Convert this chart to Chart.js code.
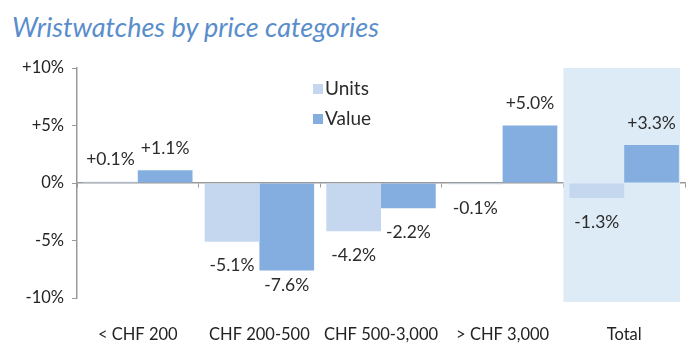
<!DOCTYPE html>
<html>
<head>
<meta charset="utf-8">
<script src="https://cdn.jsdelivr.net/npm/chart.js@4/dist/chart.umd.min.js"></script>
<style>
  html, body { margin: 0; padding: 0; background: #ffffff; }
  #wrap { position: relative; width: 700px; height: 363px; }
  #title { position: absolute; left: 12px; top: 10px; margin: 0; font: italic 27px Lato, "Open Sans", sans-serif; font-weight: normal; color: #5A8DCB; white-space: nowrap; }
  canvas { position: absolute; left: 0; top: 0; }
</style>
</head>
<body>
<div id="wrap">
  <h1 id="title">Wristwatches by price categories</h1>
  <canvas id="c" width="700" height="363"></canvas>
</div>
<script>
const categories = ["< CHF 200", "CHF 200-500", "CHF 500-3,000", "> CHF 3,000", "Total"];
const unitsValues = [0.1, -5.1, -4.2, -0.1, -1.3];
const valueValues = [1.1, -7.6, -2.2, 5.0, 3.3];
const yTickValues = [-10, -5, 0, 5, 10];
const highlightCategory = "Total";

const UNITS_COLOR = "#C4D7EF";
const VALUE_COLOR = "#85AEE0";
const AXIS_COLOR = "#9A9A9A";
const FONT = "Lato, 'Open Sans', sans-serif";

function fmt(v) {
  const s = v.toFixed(1) + "%";
  return v > 0 ? "+" + s : s;
}

const bandPlugin = {
  id: "band",
  beforeDatasetsDraw(chart) {
    const x = chart.scales.x, area = chart.chartArea;
    const i = categories.indexOf(highlightCategory);
    const half = (x.getPixelForValue(1) - x.getPixelForValue(0)) / 2;
    const left = x.getPixelForValue(i) - half;
    const right = x.getPixelForValue(i) + half - 5;
    const ctx = chart.ctx;
    ctx.save();
    ctx.fillStyle = "#DDEBF6";
    ctx.fillRect(left, area.top, right - left, area.bottom - area.top + 4);
    ctx.restore();
  }
};

const labelPlugin = {
  id: "valueLabels",
  afterDatasetsDraw(chart) {
    const ctx = chart.ctx, area = chart.chartArea;
    ctx.save();
    ctx.font = "17.5px " + FONT;
    ctx.fillStyle = "#2B2B2B";
    ctx.textAlign = "center";
    ctx.textBaseline = "middle";
    chart.data.datasets.forEach((ds, di) => {
      chart.getDatasetMeta(di).data.forEach((bar, i) => {
        const v = ds.data[i];
        let y;
        if (v >= 0) y = bar.y - 22;
        else y = Math.min(bar.y + 24, area.bottom - 13);
        ctx.fillText(fmt(v), bar.x, y);
      });
    });
    ctx.restore();
  }
};

const legendPlugin = {
  id: "customLegend",
  afterDraw(chart) {
    const ctx = chart.ctx;
    ctx.save();
    ctx.font = "19px " + FONT;
    ctx.textBaseline = "middle";
    ctx.textAlign = "left";
    chart.data.datasets.forEach((ds, i) => {
      const y = 89 + i * 30;
      ctx.fillStyle = ds.backgroundColor;
      ctx.fillRect(313, y - 5, 10, 10);
      ctx.fillStyle = "#2B2B2B";
      ctx.fillText(ds.label, 325, y);
    });
    ctx.restore();
  }
};

new Chart(document.getElementById("c"), {
  type: "bar",
  data: {
    labels: categories,
    datasets: [
      { label: "Units", data: unitsValues, backgroundColor: UNITS_COLOR, categoryPercentage: 0.9, barPercentage: 1.0 },
      { label: "Value", data: valueValues, backgroundColor: VALUE_COLOR, categoryPercentage: 0.9, barPercentage: 1.0 }
    ]
  },
  options: {
    responsive: false,
    animation: false,
    layout: { padding: { top: 68, right: 15, bottom: 0, left: 0 } },
    plugins: { legend: { display: false }, title: { display: false }, tooltip: { enabled: false } },
    scales: {
      x: {
        position: "bottom",
        grid: { display: false },
        border: { display: false },
        ticks: { padding: 19, color: "#222", font: { size: 16.5, family: FONT }, maxRotation: 0 },
        afterFit(s) { s.height = 65; }
      },
      x2: {
        type: "category",
        labels: categories,
        position: { y: 0 },
        offset: true,
        grid: { drawOnChartArea: false, drawTicks: true, tickLength: 4, color: AXIS_COLOR, offset: true },
        border: { display: true, color: AXIS_COLOR, width: 1.5 },
        ticks: { display: false }
      },
      y: {
        min: -10,
        max: 10,
        afterBuildTicks(s) { s.ticks = yTickValues.map(v => ({ value: v })); },
        grid: { drawOnChartArea: false, drawTicks: true, tickLength: 5, color: AXIS_COLOR },
        border: { display: true, color: AXIS_COLOR, width: 1.5 },
        ticks: {
          padding: 8,
          color: "#222",
          font: { size: 16.5, family: FONT },
          callback: v => (v > 0 ? "+" : "") + v + "%"
        },
        afterFit(s) { s.width = 77; }
      }
    }
  },
  plugins: [bandPlugin, labelPlugin, legendPlugin]
});
</script>
</body>
</html>
